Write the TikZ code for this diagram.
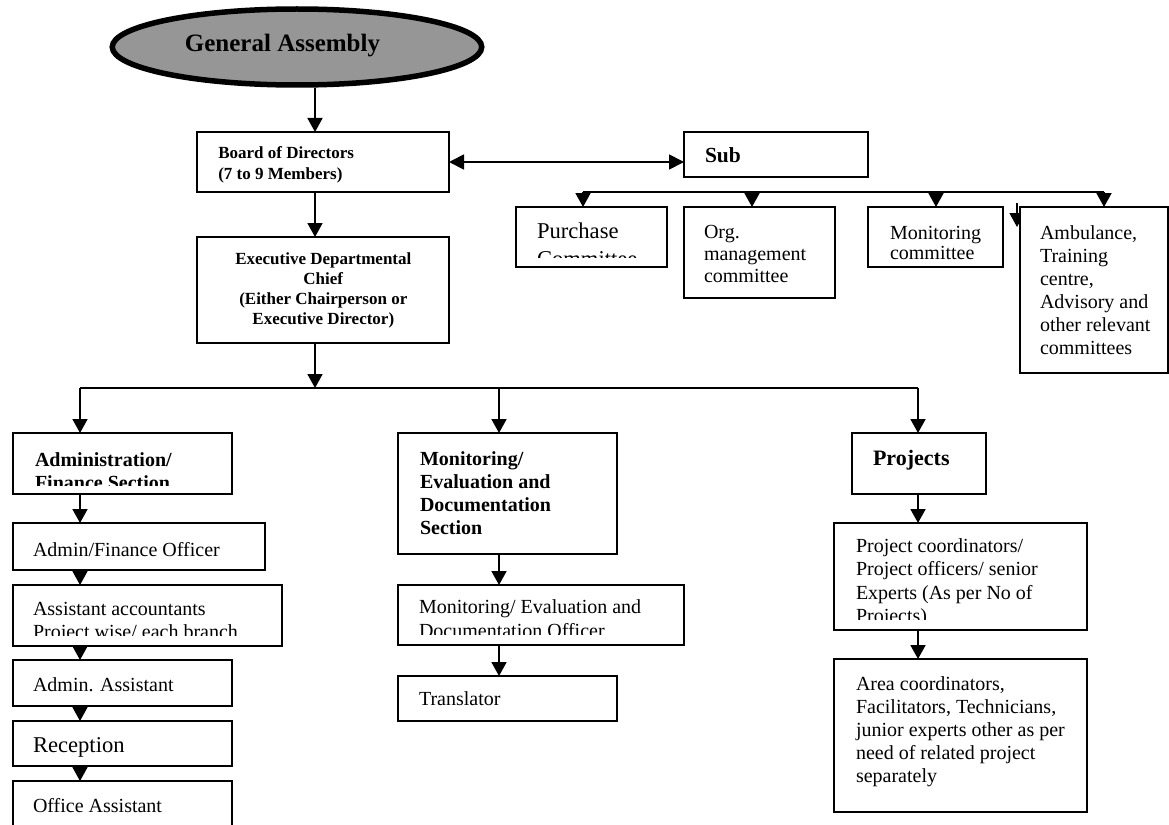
\documentclass[tikz,border=0pt]{standalone}
\usepackage{fontspec}
\setmainfont{Liberation Serif}
\usetikzlibrary{arrows.meta,fit,shapes.geometric}
\definecolor{gafill}{RGB}{150,150,150}
\tikzset{
  box/.style={draw, line width=1.8pt, fill=white, inner sep=0pt, outer sep=0pt, rectangle},
  arr/.style={line width=1.8pt, -{Triangle[width=15pt,length=14pt]}},
  dbl/.style={line width=1.8pt, {Triangle[width=15pt,length=15pt]}-{Triangle[width=15pt,length=15pt]}},
  bus/.style={line width=1.8pt},
  txt/.style={inner sep=0pt, outer sep=0pt, anchor=north west, align=left},
  lone/.style={inner sep=0pt, outer sep=0pt, anchor=base west},
}
\newcommand{\st}{\rule{0pt}{0.8em}}
\newcommand{\boxnode}[5]{\node[box, fit={(#2,#3) (#4,#5)}] (#1) {};}
\begin{document}
\begin{tikzpicture}[x=1pt,y=-1pt]
\useasboundingbox (0,0) rectangle (1169,824);
\clip (0,0) rectangle (1169,824);

% General Assembly
\node[ellipse, draw, line width=5.5pt, fill=gafill, minimum width=369.5pt, minimum height=76pt, inner sep=0pt] (ga) at (297,47) {};
\node[inner sep=0pt, anchor=base, font=\bfseries\fontsize{25}{30}\selectfont] (ga-t) at (282.5,52) {General Assembly};

% small stray arrow (drawn below the box)
\coordinate (sa1) at (1017,203);
\coordinate (sa2) at (1017,227);
\draw[arr, line width=1.5pt] (sa1) -- (sa2);

% boxes
\boxnode{board}{197}{132}{449}{192}
\boxnode{exec}{197}{237}{449}{343}
\boxnode{sub}{684}{132}{868}{177}
\boxnode{purch}{516}{207}{667}{267}
\boxnode{org}{684}{207}{835}{298}
\boxnode{moncom}{868}{207}{1003}{267}
\boxnode{amb}{1020}{207}{1168}{373}
\boxnode{adm}{13}{433}{232}{494}
\boxnode{afo}{13}{523}{265}{570}
\boxnode{aa}{13}{585}{282}{646}
\boxnode{aas}{13}{660}{232}{706}
\boxnode{rec}{13}{721}{232}{766}
\boxnode{oa}{13}{781}{232}{850}
\boxnode{mes}{398}{433}{617}{554}
\boxnode{meo}{398}{585}{684}{645}
\boxnode{tr}{398}{676}{617}{721}
\boxnode{proj}{852}{433}{986}{494}
\boxnode{pc}{834}{523}{1087}{630}
\boxnode{area}{834}{659}{1087}{812}

% texts
\node[txt, font=\bfseries\fontsize{17}{21}\selectfont] (board-t) at (218.3,144.4) {\st Board of Directors\\(7 to 9 Members)};
\node[inner sep=0pt, anchor=north, align=center, font=\bfseries\fontsize{17}{20}\selectfont] (exec-t) at (323.3,250.4) {\st Executive Departmental\\Chief\\(Either Chairperson or\\Executive Director)};
\node[lone, font=\bfseries\fontsize{21.5}{25}\selectfont] (sub-t) at (705,162) {Sub};
\begin{scope}
\clip (516,207) rectangle (667,257);
\node[txt, font=\fontsize{22.6}{28}\selectfont] (purch-t) at (537,220.9) {\st Purchase\\Committee};
\end{scope}
\node[txt, font=\fontsize{20}{22}\selectfont] (org-t) at (704,222) {\st Org.\\management\\committee};
\node[txt, font=\fontsize{20}{20}\selectfont] (moncom-t) at (890,223) {\st Monitoring\\committee};
\node[txt, font=\fontsize{20}{23}\selectfont] (amb-t) at (1040,223) {\st Ambulance,\\Training\\centre,\\Advisory and\\other relevant\\committees};
\begin{scope}
\clip (13,433) rectangle (232,485);
\node[txt, font=\bfseries\fontsize{20}{23}\selectfont] (adm-t) at (35,450) {\st Administration/\\Finance Section};
\end{scope}
\node[lone, font=\fontsize{20}{23}\selectfont] (afo-t) at (33,556) {Admin/Finance Officer};
\begin{scope}
\clip (13,585) rectangle (282,635);
\node[txt, font=\fontsize{20}{23}\selectfont] (aa-t) at (33,599) {\st Assistant accountants\\Project wise/ each branch};
\end{scope}
\node[lone, font=\fontsize{20}{23}\selectfont] (aas-t) at (33,691) {Admin. Assistant};
\node[lone, font=\fontsize{22.6}{26}\selectfont] (rec-t) at (33,752) {Reception};
\node[lone, font=\fontsize{20}{23}\selectfont] (oa-t) at (33,812) {Office Assistant};
\node[txt, font=\bfseries\fontsize{20}{23}\selectfont] (mes-t) at (420,449) {\st Monitoring/\\Evaluation and\\Documentation\\Section};
\begin{scope}
\clip (398,585) rectangle (684,634);
\node[txt, font=\fontsize{20}{24}\selectfont] (meo-t) at (419,597) {\st Monitoring/ Evaluation and\\Documentation Officer};
\end{scope}
\node[lone, font=\fontsize{20}{23}\selectfont] (tr-t) at (419,705) {Translator};
\node[lone, font=\bfseries\fontsize{22}{26}\selectfont] (proj-t) at (873,465.5) {Projects};
\begin{scope}
\clip (834,523) rectangle (1087,619);
\node[txt, font=\fontsize{20}{23.5}\selectfont] (pc-t) at (856,536) {\st Project coordinators/\\Project officers/ senior\\Experts (As per No of\\Projects)};
\end{scope}
\node[txt, font=\fontsize{20}{23}\selectfont] (area-t) at (856,674) {\st Area coordinators,\\Facilitators, Technicians,\\junior experts other as per\\need of related project\\separately};

% connectors
\draw[arr] ([xshift=18pt]ga.south) -- ([xshift=-8pt]board.north);
\draw[arr] ([xshift=-8pt]board.south) -- ([xshift=-8pt]exec.north);
\draw[dbl] (board.east) -- (board.east -| sub.west);

\coordinate (c1) at (583,192);
\coordinate (c2) at (752,192);
\coordinate (c3) at (936,192);
\coordinate (c4) at (1104,192);
\draw[bus] (c1) -- (c4);
\draw[arr] (c1) -- (c1 |- purch.north);
\draw[arr] (c2) -- (c2 |- org.north);
\draw[arr] (c3) -- (c3 |- moncom.north);
\draw[arr] (c4) -- (c4 |- amb.north);

\coordinate (m1) at (80,388);
\coordinate (m2) at (499,388);
\coordinate (m3) at (918,388);
\draw[bus] (m1) -- (m3);
\draw[arr] ([xshift=-8pt]exec.south) -- ([xshift=-8pt]exec.south |- m1);
\draw[arr] (m1) -- (m1 |- adm.north);
\draw[arr] (m2) -- (m2 |- mes.north);
\draw[arr] (m3) -- (m3 |- proj.north);

\draw[arr] (adm.south -| m1) -- (afo.north -| m1);
\draw[arr] (afo.south -| m1) -- (aa.north -| m1);
\draw[arr] (aa.south -| m1) -- (aas.north -| m1);
\draw[arr] (aas.south -| m1) -- (rec.north -| m1);
\draw[arr] (rec.south -| m1) -- (oa.north -| m1);

\draw[arr] (mes.south -| m2) -- (meo.north -| m2);
\draw[arr] (meo.south -| m2) -- (tr.north -| m2);

\draw[arr] (proj.south -| m3) -- (pc.north -| m3);
\draw[arr] (pc.south -| m3) -- (area.north -| m3);
\end{tikzpicture}
\end{document}
